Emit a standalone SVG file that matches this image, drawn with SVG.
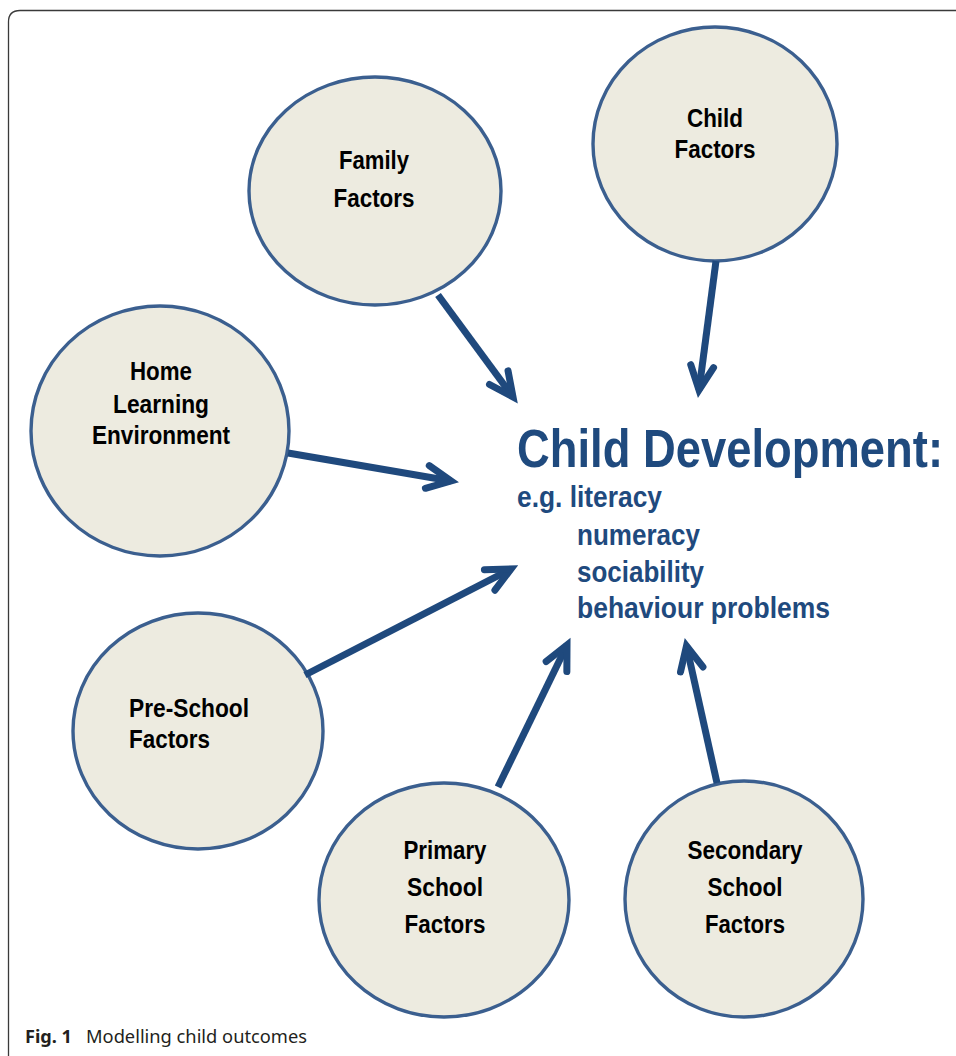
<svg xmlns="http://www.w3.org/2000/svg" width="956" height="1056" viewBox="0 0 956 1056">
  <style>
    .frame { fill: none; stroke: #3a3a3a; stroke-width: 1.3; }
    .node ellipse { fill: #EDEBE0; stroke: #3B5F8F; stroke-width: 3.4; }
    .node text { font-family: "Liberation Sans", Arial, sans-serif; font-weight: bold; font-size: 25px; fill: #000; }
    .c { text-anchor: middle; }
    .link { fill: none; stroke: #1F497D; stroke-width: 7; marker-end: url(#chev); }
    .outcome { font-family: "Liberation Sans", Arial, sans-serif; font-weight: bold; fill: #1F4A7E; }
    .cap { font-family: "Noto Sans", "Open Sans", sans-serif; font-size: 18px; fill: #231F20; }
  </style>
  <defs>
    <!-- open chevron arrowhead -->
    <marker id="chev" markerUnits="userSpaceOnUse" orient="auto" markerWidth="60" markerHeight="60" refX="0" refY="0" viewBox="-40 -30 60 60" overflow="visible">
      <path d="M-24,-11.5 L0,0 L-24,11.5" fill="none" stroke="#1F497D" stroke-width="7" stroke-linecap="round" stroke-linejoin="miter" stroke-miterlimit="10"/>
    </marker>
  </defs>

  <rect width="956" height="1056" fill="#ffffff"/>
  <!-- figure frame: open on the right and bottom -->
  <path class="frame" d="M8.5,1056 V22 Q8.5,10.5 20,10.5 H956"/>

  <!-- factor nodes -->
  <g id="family" class="node">
    <ellipse cx="375" cy="191" rx="126" ry="114"/>
    <text class="c" x="374" y="169" textLength="70" lengthAdjust="spacingAndGlyphs">Family</text>
    <text class="c" x="374" y="207" textLength="81" lengthAdjust="spacingAndGlyphs">Factors</text>
  </g>
  <g id="child" class="node">
    <ellipse cx="715" cy="144" rx="122" ry="117"/>
    <text class="c" x="715" y="127" textLength="56" lengthAdjust="spacingAndGlyphs">Child</text>
    <text class="c" x="715" y="158" textLength="81" lengthAdjust="spacingAndGlyphs">Factors</text>
  </g>
  <g id="home" class="node">
    <ellipse cx="160" cy="431" rx="129" ry="125"/>
    <text class="c" x="161" y="380" textLength="62" lengthAdjust="spacingAndGlyphs">Home</text>
    <text class="c" x="161" y="413" textLength="96" lengthAdjust="spacingAndGlyphs">Learning</text>
    <text class="c" x="161" y="444" textLength="138" lengthAdjust="spacingAndGlyphs">Environment</text>
  </g>
  <g id="preschool" class="node">
    <ellipse cx="198" cy="731" rx="125" ry="118"/>
    <text x="129" y="717" textLength="120" lengthAdjust="spacingAndGlyphs">Pre-School</text>
    <text x="129" y="748" textLength="81" lengthAdjust="spacingAndGlyphs">Factors</text>
  </g>
  <g id="primary" class="node">
    <ellipse cx="444" cy="900" rx="125" ry="117"/>
    <text class="c" x="445" y="859" textLength="83" lengthAdjust="spacingAndGlyphs">Primary</text>
    <text class="c" x="445" y="896" textLength="76" lengthAdjust="spacingAndGlyphs">School</text>
    <text class="c" x="445" y="933" textLength="81" lengthAdjust="spacingAndGlyphs">Factors</text>
  </g>
  <g id="secondary" class="node">
    <ellipse cx="744" cy="899" rx="119" ry="118"/>
    <text class="c" x="745" y="859" textLength="115" lengthAdjust="spacingAndGlyphs">Secondary</text>
    <text class="c" x="745" y="896" textLength="75" lengthAdjust="spacingAndGlyphs">School</text>
    <text class="c" x="745" y="933" textLength="80" lengthAdjust="spacingAndGlyphs">Factors</text>
  </g>

  <!-- outcome label -->
  <g id="outcome">
    <text class="outcome" x="517" y="467" font-size="54" textLength="426" lengthAdjust="spacingAndGlyphs">Child Development:</text>
    <text class="outcome" x="517" y="507" font-size="29" textLength="145" lengthAdjust="spacingAndGlyphs">e.g. literacy</text>
    <text class="outcome" x="577" y="545" font-size="29" textLength="123" lengthAdjust="spacingAndGlyphs">numeracy</text>
    <text class="outcome" x="577" y="582" font-size="29" textLength="127" lengthAdjust="spacingAndGlyphs">sociability</text>
    <text class="outcome" x="577" y="618" font-size="29" textLength="253" lengthAdjust="spacingAndGlyphs">behaviour problems</text>
  </g>

  <!-- influences pointing at the outcome -->
  <g id="connectors">
    <path class="link" d="M438,295 L513,397"/>
    <path class="link" d="M716,261 L699,390"/>
    <path class="link" d="M288,453 L451,481"/>
    <path class="link" d="M305,675 L511,569"/>
    <path class="link" d="M498,787 L567,645"/>
    <path class="link" d="M717,783 L686.5,646"/>
  </g>

  <!-- caption -->
  <g id="caption">
    <text class="cap" x="25" y="1043" font-weight="bold" textLength="47" lengthAdjust="spacingAndGlyphs">Fig. 1</text>
    <text class="cap" x="86" y="1043" textLength="221" lengthAdjust="spacingAndGlyphs">Modelling child outcomes</text>
  </g>
</svg>
